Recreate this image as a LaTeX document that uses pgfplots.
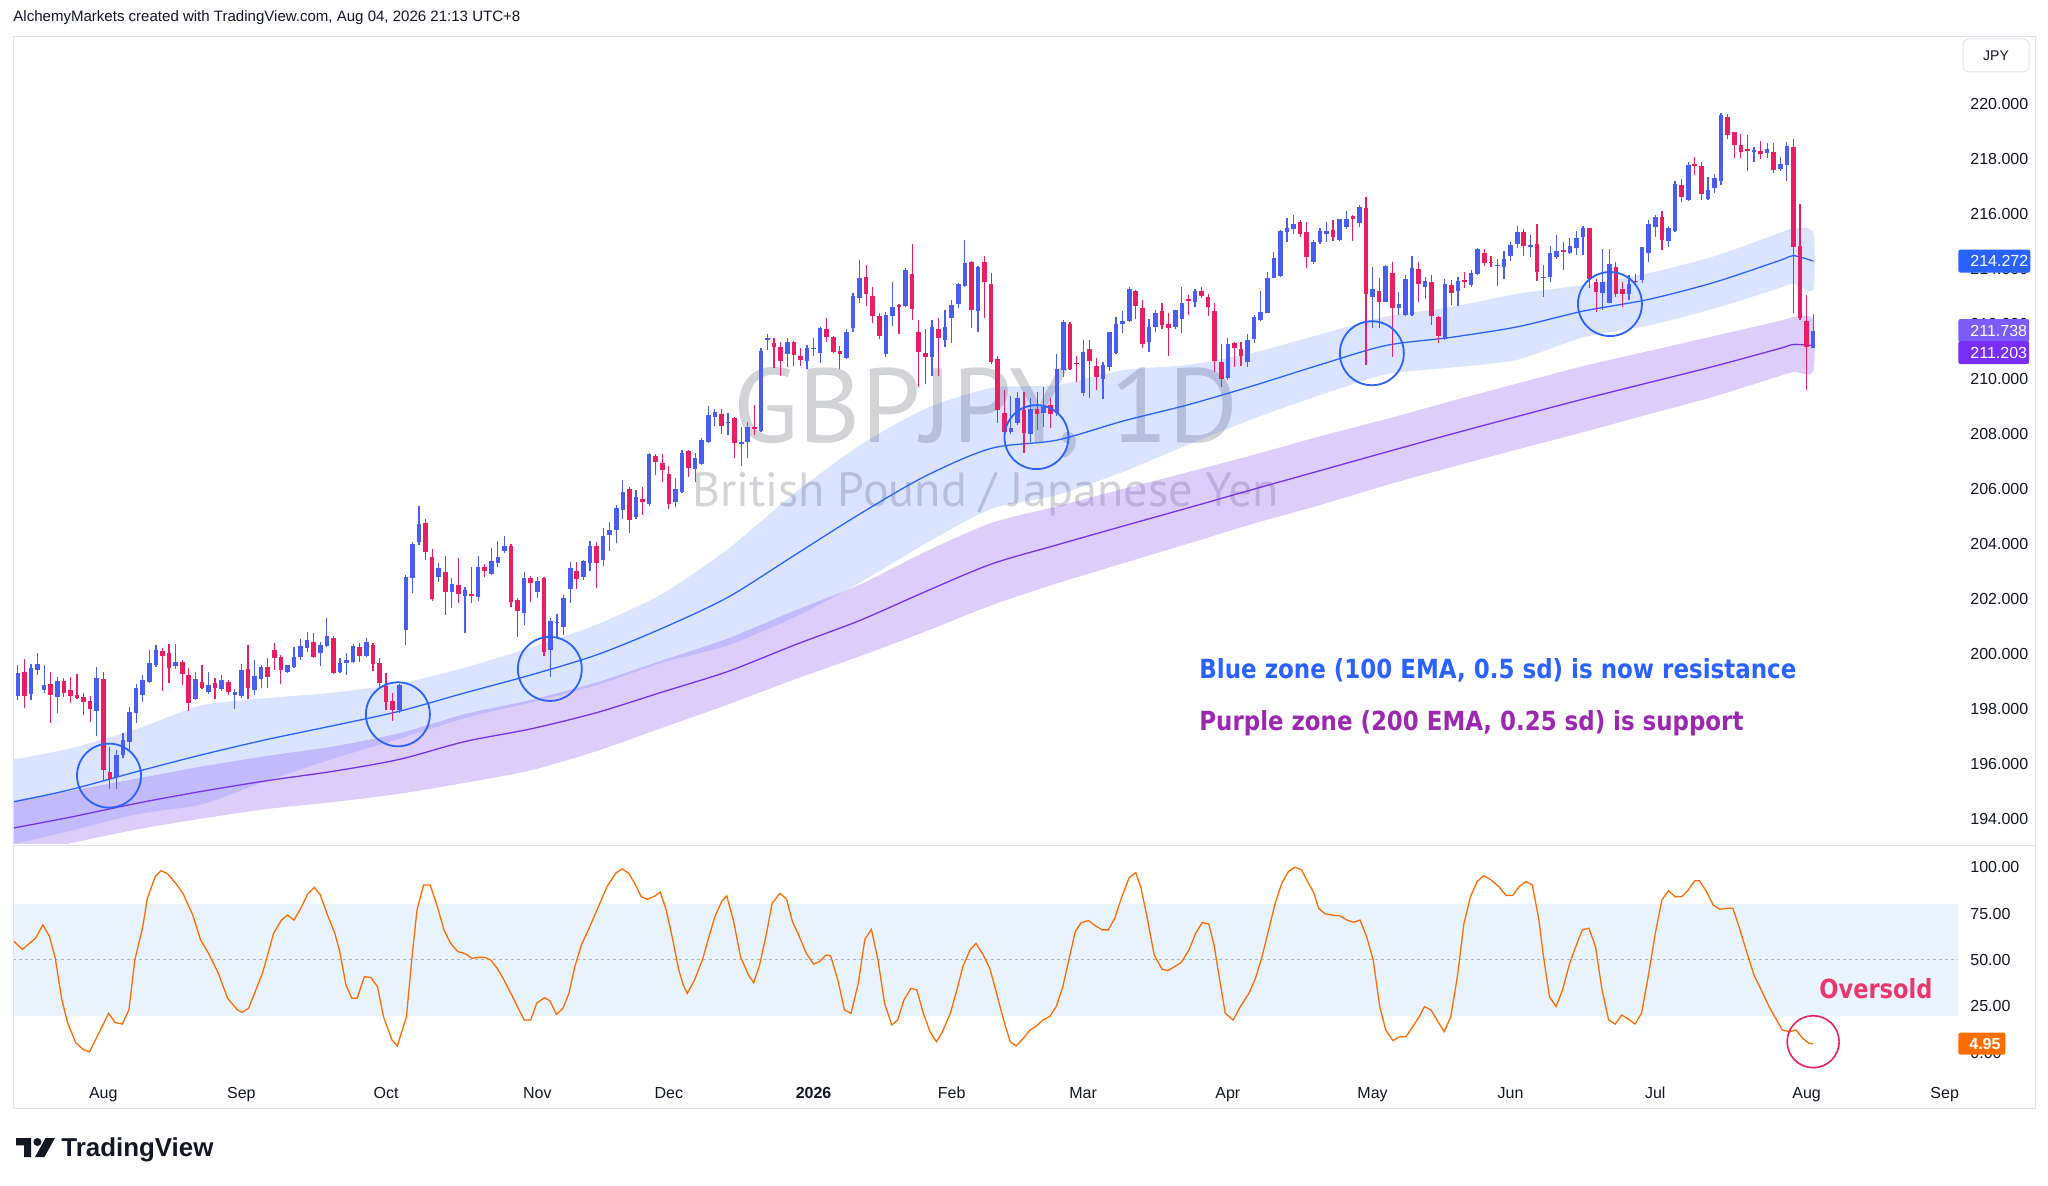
\documentclass[border=0pt]{standalone}
\usepackage{fontspec}
\setmainfont{Liberation Sans}
\newfontfamily\wmfont{PT Sans}
\newfontfamily\annfont{DejaVu Sans}
\usepackage{pgfplots}
\usepackage{pgfplotstable}
\pgfplotsset{compat=1.18}
\definecolor{upc}{RGB}{74,93,242}
\definecolor{dnc}{RGB}{233,30,99}
\definecolor{tvblue}{RGB}{41,98,255}
\definecolor{pline}{RGB}{118,50,235}
\definecolor{pband}{RGB}{140,90,240}
\definecolor{tvtext}{RGB}{19,23,34}
\definecolor{frame}{RGB}{224,227,235}
\definecolor{wm}{RGB}{210,211,215}
\definecolor{lblB}{RGB}{124,92,247}
\definecolor{lblC}{RGB}{122,46,250}
\definecolor{tvorange}{RGB}{255,109,0}
\definecolor{oscband}{RGB}{232,243,253}
\definecolor{annpurple}{RGB}{156,39,176}
\definecolor{ovs}{RGB}{232,56,109}
\definecolor{midgrey}{RGB}{178,181,190}

\pgfplotstableread[row sep=\\]{
x O H L C\\
-13 198.45 199.58 198.31 199.28\\ -11 198.53 199.61 198.31 199.46\\ -10 199.40 200.01 199.22 199.62\\ -9 198.67 199.58 198.55 198.85\\
-7 198.43 199.13 197.82 199.00\\ -1 197.91 199.52 197.00 199.12\\ 2 195.52 196.49 195.07 196.31\\ 3 196.31 197.12 196.19 196.85\\
4 196.79 198.04 196.49 197.88\\ 5 197.82 198.89 197.46 198.76\\ 6 198.49 199.22 198.25 199.04\\ 7 198.98 200.13 198.92 199.64\\
8 199.58 200.31 199.52 200.13\\ 11 199.56 200.33 199.44 199.68\\ 14 198.36 199.34 198.31 199.06\\ 16 198.61 199.34 198.53 198.85\\
18 198.71 199.22 198.65 199.04\\ 20 198.50 198.70 198.00 198.60\\ 21 198.45 199.62 198.37 199.40\\ 23 198.67 199.76 198.49 199.18\\
24 199.06 199.58 198.73 199.52\\ 28 199.32 199.58 199.28 199.58\\ 29 199.50 200.25 199.46 199.88\\ 30 199.86 200.52 199.76 200.27\\
31 200.19 200.77 200.07 200.49\\ 33 200.01 200.43 199.55 200.31\\ 34 200.27 201.28 200.25 200.64\\ 36 199.34 199.82 199.28 199.67\\
37 199.67 200.01 199.22 199.76\\ 38 199.70 200.33 199.67 200.29\\ 40 199.92 200.55 199.89 200.41\\ 45 197.95 198.91 197.82 198.85\\
46 200.85 202.85 200.31 202.79\\ 47 202.76 204.07 202.19 203.97\\ 48 204.07 205.36 203.95 204.70\\ 51 202.77 203.28 202.59 203.10\\
53 202.22 202.76 201.64 202.52\\ 55 202.10 202.41 200.73 202.31\\ 57 202.07 203.55 201.92 203.13\\ 59 202.89 203.82 202.85 203.38\\
60 203.30 204.09 203.16 203.52\\ 61 203.73 204.27 203.64 203.91\\ 64 201.46 202.95 201.04 202.73\\ 66 202.25 202.79 202.01 202.64\\
68 200.13 201.31 199.13 201.18\\ 69 201.10 201.42 200.61 201.16\\ 70 200.98 202.13 200.67 202.01\\ 71 202.35 203.32 201.82 203.10\\
73 202.79 203.40 202.67 203.36\\ 74 203.30 204.09 203.01 203.91\\ 76 203.40 204.55 203.18 204.27\\ 77 204.31 204.79 203.74 204.49\\
78 204.49 205.40 204.01 205.28\\ 79 205.22 206.31 204.91 205.88\\ 81 204.98 205.95 204.91 205.68\\ 83 205.44 207.28 205.36 207.24\\
87 205.50 206.37 205.34 205.97\\ 88 205.86 207.40 205.82 207.30\\ 90 206.70 207.28 206.25 207.10\\ 91 206.89 207.85 206.85 207.76\\
92 207.68 209.00 207.64 208.67\\ 93 208.59 208.91 208.27 208.79\\ 95 208.37 208.76 207.95 208.43\\ 97 207.61 208.25 206.83 207.68\\
98 207.68 208.41 207.10 208.25\\ 100 208.09 211.10 208.07 211.00\\ 101 211.40 211.61 211.04 211.47\\ 104 210.88 211.48 210.41 211.34\\
107 210.64 211.22 210.33 211.12\\ 108 211.06 211.46 210.82 211.12\\ 109 210.94 211.88 210.55 211.82\\ 113 210.76 211.79 210.71 211.70\\
114 211.85 213.10 211.70 213.00\\ 115 212.92 214.31 212.73 213.67\\ 119 210.89 212.43 210.77 212.31\\ 120 212.27 213.52 211.91 212.61\\
122 212.64 214.01 212.61 213.95\\ 126 210.79 212.13 210.10 211.86\\ 128 211.40 212.49 211.16 211.88\\ 129 212.19 212.85 211.28 212.67\\
130 212.71 213.46 212.55 213.42\\ 131 213.38 215.04 213.32 214.19\\ 133 212.45 214.09 211.68 214.07\\ 138 208.07 209.38 207.98 208.21\\
139 208.39 209.52 208.31 209.28\\ 141 207.98 209.28 207.70 208.91\\ 143 208.73 209.70 208.25 208.98\\ 145 208.73 210.88 208.64 210.33\\
146 210.31 212.13 210.07 212.04\\ 149 209.46 211.40 209.38 210.95\\ 152 209.98 210.61 209.25 210.49\\ 153 210.43 211.70 210.28 211.68\\
154 210.92 212.22 210.89 211.97\\ 155 211.97 212.45 211.64 212.10\\ 156 212.10 213.32 212.07 213.24\\ 159 211.34 212.15 210.98 211.86\\
160 211.88 212.49 211.70 212.39\\ 163 211.86 212.49 211.79 212.49\\ 164 212.15 213.32 211.64 212.76\\ 166 212.79 213.24 212.59 213.18\\
171 210.03 211.46 209.95 211.25\\ 174 210.61 211.61 210.43 211.40\\ 175 211.42 212.31 211.30 212.22\\ 176 212.13 213.18 212.10 212.43\\
177 212.39 213.88 212.37 213.67\\ 178 213.67 214.61 213.64 214.39\\ 179 213.74 215.40 213.70 215.36\\ 180 215.34 215.82 214.95 215.48\\
181 215.44 215.95 215.24 215.62\\ 184 214.22 215.04 214.16 214.95\\ 185 214.95 215.46 214.91 215.38\\ 186 215.25 215.70 214.95 215.38\\
188 215.04 215.79 215.01 215.79\\ 189 215.52 216.09 215.44 215.79\\ 191 215.67 216.31 215.52 216.25\\ 193 212.97 214.07 211.82 213.25\\
195 212.79 214.13 212.77 214.09\\ 197 212.58 213.13 212.31 212.70\\ 198 212.31 213.76 212.29 213.62\\ 199 212.31 214.45 212.29 214.01\\
201 213.34 213.70 212.91 213.55\\ 204 211.44 213.61 211.40 213.42\\ 206 213.18 213.70 212.65 213.55\\ 208 213.40 213.95 213.34 213.85\\
209 213.79 214.76 213.76 214.71\\ 212 214.08 214.35 213.38 214.12\\ 213 214.07 214.64 213.62 214.35\\ 214 214.47 214.98 214.29 214.85\\
215 214.88 215.56 214.73 215.34\\ 217 214.79 215.22 214.43 214.84\\ 219 213.66 214.13 212.97 213.70\\ 220 213.68 214.82 213.52 214.58\\
221 214.43 215.22 214.35 214.64\\ 223 214.58 215.10 214.53 214.82\\ 224 214.76 215.38 214.49 215.12\\ 225 215.13 215.55 214.49 215.48\\
228 213.10 214.71 212.49 213.52\\ 229 212.76 214.71 212.73 214.15\\ 232 213.06 213.76 212.85 213.44\\ 234 213.58 214.79 213.46 214.77\\
235 214.55 215.76 214.22 215.62\\ 236 215.52 215.95 215.16 215.88\\ 238 215.01 215.55 214.77 215.46\\ 239 215.38 217.19 215.34 217.06\\
241 216.49 217.88 216.47 217.76\\ 244 216.53 217.34 216.49 216.86\\ 245 216.92 217.44 216.73 217.30\\ 246 217.18 219.64 217.04 219.58\\
251 218.25 218.43 217.86 218.30\\ 253 218.19 218.55 218.01 218.35\\ 255 217.62 218.04 217.56 217.79\\ 256 217.76 218.61 217.19 218.47\\
260 211.10 212.35 211.10 211.74\\
}\up

\pgfplotstableread[row sep=\\]{
x O H L C\\
-12 199.34 199.79 198.01 198.45\\ -8 198.88 199.34 197.48 198.49\\ -6 199.00 199.10 198.43 198.58\\ -5 198.67 199.13 198.19 198.45\\
-4 198.48 199.26 198.36 198.40\\ -3 198.42 198.55 197.76 198.25\\ -2 198.27 198.45 197.52 197.97\\ 0 199.07 199.34 195.40 195.76\\
1 195.69 196.61 195.07 195.42\\ 9 200.10 200.19 198.65 199.92\\ 10 200.03 200.33 198.94 199.46\\ 12 199.70 199.76 198.85 199.26\\
13 199.22 199.46 197.92 198.21\\ 15 198.98 199.58 198.70 198.76\\ 17 198.92 199.10 198.33 198.73\\ 19 198.96 199.04 198.49 198.59\\
22 199.44 200.31 198.36 198.73\\ 25 199.52 199.82 198.73 199.13\\ 26 200.13 200.37 199.40 199.85\\ 27 199.86 199.95 198.89 199.40\\
32 200.41 200.73 199.82 199.86\\ 35 200.58 200.64 199.25 199.30\\ 39 200.25 200.37 199.68 199.92\\ 41 200.31 200.37 199.38 199.61\\
42 199.64 199.82 198.73 198.94\\ 43 198.83 199.28 197.95 198.22\\ 44 198.27 198.55 197.56 197.95\\ 49 204.76 204.91 203.40 203.70\\
50 203.50 203.80 201.91 201.98\\ 52 202.98 203.56 201.40 202.22\\ 54 202.48 203.46 201.82 202.15\\ 56 202.15 203.13 201.85 202.10\\
58 203.13 203.24 202.79 203.00\\ 62 203.91 203.97 201.70 201.89\\ 63 201.95 202.01 200.61 201.56\\ 65 202.73 202.82 201.89 202.58\\
67 202.76 202.79 199.92 200.07\\ 72 203.01 203.34 202.35 202.71\\ 75 203.91 204.07 202.37 203.30\\ 80 205.97 206.07 204.37 204.85\\
82 205.62 206.04 205.04 205.50\\ 84 207.19 207.24 206.49 206.95\\ 85 206.94 207.24 206.22 206.67\\ 86 206.53 206.82 205.25 205.44\\
89 207.36 207.40 206.41 206.76\\ 94 208.71 208.89 207.98 208.27\\ 96 208.55 208.61 207.12 207.64\\ 99 208.25 209.04 207.95 208.18\\
102 211.30 211.46 210.37 211.16\\ 103 211.16 211.34 210.10 210.65\\ 105 211.34 211.36 210.45 210.85\\ 106 210.82 211.10 210.47 210.67\\
110 211.79 212.21 211.34 211.52\\ 111 211.52 211.55 210.94 210.95\\ 112 211.00 211.19 210.35 210.88\\ 116 213.68 214.13 212.64 213.07\\
117 213.00 213.32 212.03 212.27\\ 118 212.27 212.39 211.44 211.55\\ 121 212.67 212.70 211.62 212.61\\ 123 213.79 214.89 212.13 212.52\\
124 211.68 212.13 209.68 210.98\\ 125 210.92 211.80 209.80 210.79\\ 127 211.80 212.19 210.10 211.46\\ 132 214.25 214.27 211.85 212.49\\
134 214.22 214.47 212.19 213.52\\ 135 213.42 213.82 210.53 210.59\\ 136 210.71 210.83 208.37 208.85\\ 137 208.73 209.58 207.98 208.07\\
140 208.85 209.50 207.30 208.03\\ 142 208.88 209.52 208.13 208.70\\ 144 209.04 209.28 208.19 208.70\\ 147 211.97 212.07 210.31 210.33\\
148 210.57 210.83 209.86 210.52\\ 150 211.07 211.40 209.28 210.65\\ 151 210.45 210.73 209.58 210.04\\ 157 213.18 213.22 212.15 212.65\\
158 212.55 212.85 211.10 211.24\\ 161 212.45 212.73 211.79 211.95\\ 162 211.98 212.37 210.83 211.82\\ 165 212.88 213.04 212.31 212.83\\
167 213.18 213.32 212.92 213.00\\ 168 212.98 213.07 212.27 212.61\\ 169 212.45 212.73 210.25 210.64\\ 170 210.59 211.24 209.68 209.98\\
172 211.28 211.34 210.43 211.10\\ 173 211.06 211.34 210.45 210.82\\ 182 215.70 215.76 215.16 215.25\\ 183 215.34 215.70 214.03 214.41\\
187 215.40 215.76 215.01 215.13\\ 190 215.91 215.95 215.01 215.79\\ 192 216.19 216.61 210.49 213.06\\ 194 213.19 213.64 211.82 212.79\\
196 213.85 214.22 210.79 212.58\\ 200 213.97 214.25 212.79 213.44\\ 202 213.50 213.76 211.95 212.27\\ 203 212.25 212.27 211.31 211.56\\
205 213.40 213.58 212.67 213.10\\ 207 213.58 213.86 213.31 213.52\\ 210 214.58 214.71 214.10 214.21\\ 211 214.24 214.47 214.04 214.19\\
216 215.34 215.44 214.47 214.82\\ 218 214.91 215.62 213.56 213.86\\ 222 214.66 214.98 213.95 214.61\\ 226 215.48 215.48 213.28 213.61\\
227 213.52 213.61 212.43 213.16\\ 230 214.07 214.22 212.98 213.06\\ 231 213.24 213.52 212.59 213.07\\ 233 213.55 213.80 213.46 213.52\\
237 215.86 216.09 214.67 215.04\\ 240 217.04 217.26 216.43 216.59\\ 242 217.79 218.04 217.40 217.73\\ 243 217.73 217.86 216.49 216.71\\
247 219.52 219.61 218.70 218.85\\ 248 218.95 218.98 218.03 218.49\\ 249 218.49 218.88 218.01 218.22\\ 250 218.33 218.85 217.56 218.28\\
252 218.27 218.65 217.98 218.16\\ 254 218.22 218.55 217.48 217.58\\ 257 218.43 218.70 212.37 214.79\\ 258 214.83 216.35 212.13 212.19\\
259 212.10 213.04 209.58 211.16\\
}\down

\pgfplotstableread[row sep=\\]{
x bm pm\\
-14 194.59 193.64\\ -5 195.05 194.05\\ 5 195.70 194.55\\ 15 196.32 194.99\\ 25 196.88 195.38\\ 35 197.38 195.72\\
45 197.90 196.15\\ 55 198.57 196.80\\ 65 199.22 197.26\\ 75 199.95 197.85\\ 85 200.92 198.60\\ 95 202.05 199.35\\
105 203.56 200.30\\ 115 205.07 201.20\\ 125 206.45 202.25\\ 135 207.46 203.25\\ 145 207.76 203.95\\ 155 208.45 204.63\\
165 209.05 205.30\\ 175 209.75 205.98\\ 185 210.50 206.65\\ 195 211.20 207.32\\ 205 211.50 207.98\\ 215 211.88 208.62\\
225 212.45 209.25\\ 235 212.88 209.85\\ 245 213.50 210.45\\ 255 214.30 211.10\\ 257 214.47 211.24\\ 260 214.27 211.20\\
}\lines

\pgfplotstableread[row sep=\\]{
x y\\
-14 196.13\\ -5 196.55\\ 5 197.25\\ 15 198.12\\ 25 198.38\\ 35 198.58\\ 45 198.90\\ 55 199.49\\ 65 200.22\\ 75 201.05\\
85 202.17\\ 95 203.80\\ 105 205.81\\ 115 207.57\\ 125 208.90\\ 135 209.66\\ 145 209.76\\ 155 210.30\\ 165 210.50\\ 175 210.95\\
185 211.60\\ 195 212.25\\ 205 212.60\\ 215 213.08\\ 225 213.40\\ 235 213.83\\ 245 214.45\\ 255 215.30\\ 257 215.48\\ 260 215.31\\
260 213.23\\ 257 213.46\\ 255 213.30\\ 245 212.55\\ 235 211.93\\ 225 211.50\\ 215 210.68\\ 205 210.40\\ 195 210.15\\ 185 209.40\\
175 208.55\\ 165 207.60\\ 155 206.60\\ 145 205.76\\ 135 205.26\\ 125 204.00\\ 115 202.57\\ 105 201.31\\ 95 200.30\\ 85 199.67\\
75 198.85\\ 65 198.22\\ 55 197.65\\ 45 196.90\\ 35 196.18\\ 25 195.38\\ 15 194.52\\ 5 194.15\\ -5 193.55\\ -14 193.05\\
}\bandB

\pgfplotstableread[row sep=\\]{
x y\\
-14 194.64\\ -5 195.00\\ 5 195.45\\ 15 195.89\\ 25 196.28\\ 35 196.62\\ 45 197.10\\ 55 197.80\\ 65 198.31\\ 75 198.95\\
85 199.75\\ 95 200.55\\ 105 201.55\\ 115 202.50\\ 125 203.70\\ 135 204.75\\ 145 205.35\\ 155 205.98\\ 165 206.60\\ 175 207.23\\
185 207.90\\ 195 208.52\\ 205 209.18\\ 215 209.82\\ 225 210.45\\ 235 211.00\\ 245 211.55\\ 255 212.10\\ 257 212.24\\ 260 212.15\\
260 210.25\\ 257 210.24\\ 255 210.10\\ 245 209.35\\ 235 208.70\\ 225 208.05\\ 215 207.42\\ 205 206.78\\ 195 206.12\\ 185 205.40\\
175 204.73\\ 165 204.00\\ 155 203.28\\ 145 202.55\\ 135 201.75\\ 125 200.80\\ 115 199.90\\ 105 199.05\\ 95 198.15\\ 85 197.30\\
75 196.45\\ 65 195.75\\ 55 195.30\\ 45 194.90\\ 35 194.60\\ 25 194.35\\ 15 194.00\\ 5 193.60\\ -5 193.10\\ -14 192.64\\
}\bandP

\pgfplotstableread[row sep=\\]{
x v\\
-13.7 60.4\\ -12.3 55.7\\ -10.3 61.7\\ -9.2 68.9\\ -8.2 62.9\\ -7.3 50.9\\ -6.3 28.5\\ -5.4 15.9\\ -4.2 5.5\\ -3.1 1.9\\
-2.1 0.5\\ -0.7 10.5\\ 0.8 21.3\\ 1.8 16.3\\ 2.9 15.5\\ 3.9 23.1\\ 4.8 50.0\\ 6.0 67.9\\ 6.7 83.2\\ 7.9 94.9\\
8.8 98.1\\ 9.8 96.3\\ 11.0 91.3\\ 12.1 85.9\\ 13.6 74.2\\ 14.8 60.8\\ 16.0 53.6\\ 17.5 42.8\\ 18.9 29.4\\ 20.4 23.1\\
21.1 21.8\\ 22.1 24.0\\ 23.2 33.9\\ 24.2 42.8\\ 25.2 55.4\\ 25.9 64.4\\ 27.1 71.5\\ 28.0 74.2\\ 29.0 71.5\\ 29.9 76.9\\
31.1 85.6\\ 32.1 89.1\\ 33.0 85.0\\ 34.0 75.1\\ 35.2 64.4\\ 35.9 55.4\\ 36.9 36.5\\ 37.8 29.4\\ 38.6 29.4\\ 39.7 41.0\\
40.7 40.5\\ 41.7 35.6\\ 42.6 19.5\\ 43.9 6.9\\ 44.7 3.7\\ 46.1 19.5\\ 46.9 50.0\\ 47.7 76.9\\ 48.7 90.4\\ 49.7 90.4\\
50.8 78.7\\ 51.8 66.2\\ 52.8 59.0\\ 53.9 54.5\\ 54.9 53.6\\ 56.1 50.9\\ 57.0 51.4\\ 58.0 51.4\\ 58.9 50.0\\ 59.9 45.5\\
60.8 40.1\\ 62.1 31.2\\ 63.1 24.0\\ 64.0 17.7\\ 65.0 17.7\\ 65.9 26.7\\ 67.1 29.7\\ 67.9 28.1\\ 68.9 20.7\\ 69.9 24.0\\
70.8 32.0\\ 71.7 46.4\\ 72.7 58.1\\ 74.1 68.9\\ 75.5 80.5\\ 76.6 89.5\\ 77.9 96.7\\ 78.9 99.0\\ 79.9 96.7\\ 80.8 91.3\\
81.8 84.1\\ 82.7 82.7\\ 83.7 84.1\\ 84.7 86.5\\ 85.6 76.9\\ 86.6 60.8\\ 87.5 44.6\\ 88.2 36.5\\ 88.8 32.0\\ 89.9 39.2\\
91.1 50.0\\ 92.1 62.6\\ 93.0 73.3\\ 94.1 82.0\\ 94.8 84.5\\ 95.8 71.5\\ 96.9 51.8\\ 98.1 41.9\\ 98.9 37.8\\ 99.8 47.3\\
100.8 63.5\\ 101.7 80.5\\ 102.9 85.9\\ 103.9 82.7\\ 104.8 70.6\\ 105.8 62.9\\ 106.9 53.6\\ 108.0 47.8\\ 108.9 49.1\\ 109.9 52.7\\
110.6 52.2\\ 111.7 39.2\\ 112.7 23.1\\ 113.7 21.3\\ 114.8 37.4\\ 115.8 61.1\\ 116.8 66.5\\ 117.8 50.0\\ 118.8 26.7\\ 119.9 15.0\\
120.8 17.7\\ 121.7 28.1\\ 122.8 34.7\\ 123.7 33.9\\ 124.7 21.3\\ 125.7 11.4\\ 126.7 6.0\\ 127.6 11.4\\ 128.8 21.3\\ 129.8 33.9\\
130.7 46.4\\ 131.8 55.4\\ 132.7 59.0\\ 133.8 52.7\\ 134.8 45.5\\ 135.7 33.9\\ 136.3 25.5\\ 137.2 14.1\\ 137.9 6.0\\ 138.8 3.7\\
139.9 7.8\\ 140.9 12.3\\ 141.9 14.5\\ 142.9 17.7\\ 143.9 19.5\\ 144.9 24.9\\ 145.9 35.6\\ 146.7 48.2\\ 147.8 65.3\\ 148.7 70.1\\
149.8 71.2\\ 150.9 68.3\\ 151.9 66.2\\ 152.8 66.2\\ 153.8 72.4\\ 154.8 83.2\\ 156.0 94.4\\ 157.0 97.0\\ 157.8 88.6\\ 158.7 73.3\\
159.8 52.7\\ 161.0 45.0\\ 161.9 44.3\\ 162.9 46.4\\ 163.9 48.6\\ 165.1 55.4\\ 166.1 64.4\\ 167.1 70.1\\ 168.1 69.4\\ 168.9 58.1\\
169.6 42.8\\ 170.6 21.3\\ 171.8 17.7\\ 172.9 24.9\\ 174.2 32.0\\ 175.2 40.1\\ 176.2 51.8\\ 177.2 66.2\\ 178.2 80.5\\ 179.2 91.3\\
180.2 97.6\\ 181.2 99.9\\ 182.2 98.5\\ 183.0 93.1\\ 184.1 85.9\\ 184.8 77.8\\ 185.8 74.8\\ 186.8 74.2\\ 188.1 73.7\\ 189.1 71.5\\
190.1 70.3\\ 191.1 71.5\\ 192.1 62.6\\ 193.1 50.0\\ 194.1 24.9\\ 195.0 12.3\\ 196.1 6.6\\ 197.1 8.7\\ 198.1 8.7\\ 199.1 14.1\\
200.1 19.5\\ 200.9 24.9\\ 201.9 23.1\\ 203.1 15.9\\ 203.9 11.4\\ 204.9 19.5\\ 205.9 41.0\\ 206.9 69.7\\ 207.9 84.1\\ 208.9 92.2\\
209.9 95.4\\ 210.9 93.4\\ 212.2 89.5\\ 213.3 84.7\\ 214.3 84.7\\ 215.3 89.5\\ 216.3 92.2\\ 217.3 90.4\\ 218.3 71.5\\ 219.0 51.8\\
219.9 30.3\\ 220.9 24.9\\ 221.9 33.9\\ 222.9 47.3\\ 223.9 57.2\\ 224.9 66.2\\ 225.9 67.1\\ 226.9 57.2\\ 227.9 33.9\\ 228.9 17.7\\
229.9 15.5\\ 230.9 20.4\\ 231.9 18.2\\ 232.9 15.5\\ 233.9 21.3\\ 235.0 42.8\\ 236.0 64.4\\ 237.0 82.3\\ 238.0 87.3\\ 239.0 84.1\\
240.0 84.1\\ 241.0 87.7\\ 242.0 92.7\\ 242.7 92.7\\ 243.8 86.8\\ 244.8 79.6\\ 245.8 77.3\\ 246.8 77.8\\ 247.8 77.8\\ 248.8 67.1\\
249.8 55.4\\ 251.0 41.9\\ 252.1 33.9\\ 253.3 24.9\\ 254.3 18.6\\ 255.3 12.3\\ 256.4 11.4\\ 257.4 12.3\\ 258.4 7.8\\ 259.4 5.1\\
260.0 4.95\\
}\osc

\begin{document}
\begin{tikzpicture}
\path[use as bounding box, fill=white] (0pt,0pt) rectangle (1024pt,592.5pt);
% watermark
\node[anchor=base west, inner sep=0pt, text=wm] at (366.5pt,371pt) {\resizebox{252.5pt}{37.5pt}{\wmfont GBPJPY, 1D}};
\node[anchor=base west, inner sep=0pt, text=wm] at (345.8pt,339pt) {\resizebox{293.5pt}{!}{\wmfont British Pound / Japanese Yen}};

\begin{axis}[at={(6.5pt,171pt)}, anchor=south west, scale only axis,
  width=972.5pt, height=403pt,
  xmin=-13.73, xmax=282.03, ymin=193.11, ymax=222.42,
  axis line style={draw=none}, major tick length=0pt,
  xtick=\empty,
  ytick={194,196,...,220},
  yticklabels={194.000,196.000,198.000,200.000,202.000,204.000,206.000,208.000,210.000,212.000,214.000,216.000,218.000,220.000},
  yticklabel pos=right,
  yticklabel style={anchor=west, inner sep=0pt, xshift=6pt, font=\fontsize{8}{9.6}\selectfont, text=tvtext}]
% bands
\addplot[fill=tvblue, fill opacity=0.17, draw=none, smooth, tension=0.4, forget plot] table[x=x,y=y]{\bandB};
\addplot[fill=pband, fill opacity=0.30, draw=none, smooth, tension=0.4, forget plot] table[x=x,y=y]{\bandP};
\addplot[tvblue, line width=0.65pt, smooth, forget plot] table[x=x,y=bm]{\lines};
\addplot[pline, line width=0.65pt, smooth, forget plot] table[x=x,y=pm]{\lines};
% wicks
\addplot[draw=upc, line width=0.6pt, forget plot, quiver={u=0, v={\thisrow{H}-\thisrow{L}}}] table[x=x, y=L]{\up};
\addplot[draw=dnc, line width=0.6pt, forget plot, quiver={u=0, v={\thisrow{H}-\thisrow{L}}}] table[x=x, y=L]{\down};
% bodies
\addplot[draw=upc, line width=2.3pt, forget plot, quiver={u=0, v={max(\thisrow{C}-\thisrow{O},0.04)}}] table[x=x, y=O]{\up};
\addplot[draw=dnc, line width=2.3pt, forget plot, quiver={u=0, v={max(\thisrow{O}-\thisrow{C},0.04)}}] table[x=x, y=C]{\down};
% circles
\addplot[only marks, mark=o, mark size=16pt, mark options={draw=tvblue, line width=0.9pt}, forget plot]
  coordinates {(0.87,195.56) (44.8,197.79) (67.9,199.44) (141.9,207.87) (192.9,210.92) (229.1,212.71)};
\coordinate (lA) at (axis cs:282.03,214.272);
\coordinate (lB) at (axis cs:282.03,211.745);
\coordinate (lC) at (axis cs:282.03,210.945);
\end{axis}
\node[fill=tvblue, text=white, anchor=west, inner sep=0pt, minimum height=11.5pt, minimum width=35pt, rounded corners=1pt, font=\fontsize{8}{9.6}\selectfont] at (lA) {\hspace*{6pt}214.272\hspace*{1pt}};
\node[fill=lblB, text=white, anchor=west, inner sep=0pt, minimum height=11.5pt, minimum width=35pt, rounded corners=1pt, font=\fontsize{8}{9.6}\selectfont] at (lB) {\hspace*{6pt}211.738\hspace*{1pt}};
\node[fill=lblC, text=white, anchor=west, inner sep=0pt, minimum height=11.5pt, minimum width=35pt, rounded corners=1pt, font=\fontsize{8}{9.6}\selectfont] at (lC) {\hspace*{6pt}211.203\hspace*{1pt}};

\begin{axis}[at={(6.5pt,56pt)}, anchor=south west, scale only axis,
  width=972.5pt, height=114pt,
  xmin=-13.73, xmax=282.03, ymin=-10.85, ymax=111.9,
  axis line style={draw=none}, major tick length=0pt,
  xtick={0,21,43,66,86,108,129,149,171,193,214,236,259,280},
  xticklabels={Aug,Sep,Oct,Nov,Dec,\textbf{2026},Feb,Mar,Apr,May,Jun,Jul,Aug,Sep},
  xticklabel style={anchor=base, inner sep=0pt, yshift=-12.5pt, font=\fontsize{8}{9.6}\selectfont, text=tvtext},
  ytick={0,25,50,75,100},
  yticklabels={0.00,25.00,50.00,75.00,100.00},
  yticklabel pos=right,
  yticklabel style={anchor=west, inner sep=0pt, xshift=6pt, font=\fontsize{8}{9.6}\selectfont, text=tvtext}]
\addplot[fill=oscband, draw=none, forget plot] coordinates {(-13.73,20) (282.03,20) (282.03,80) (-13.73,80)};
\addplot[midgrey, line width=0.5pt, dash pattern=on 1.5pt off 1.5pt, forget plot] coordinates {(-13.73,50) (282.03,50)};
\addplot[tvorange, line width=0.65pt, forget plot] table[x=x,y=v]{\osc};
\addplot[only marks, mark=o, mark size=13pt, mark options={draw=dnc, line width=0.8pt}, forget plot] coordinates {(260,6.0)};
\coordinate (lD) at (axis cs:282.03,4.95);
\end{axis}
\node[fill=tvorange, text=white, anchor=west, inner sep=0pt, minimum height=11pt, minimum width=23.5pt, rounded corners=1pt, font=\fontsize{8}{9.6}\selectfont\bfseries] at (lD) {\hspace*{4pt}4.95\hspace*{1pt}};

% frame
\draw[frame, line width=0.5pt] (6.5pt,38.5pt) rectangle (1017.5pt,574pt);
\draw[frame, line width=0.5pt] (6.5pt,170pt) -- (1017.5pt,170pt);
% JPY box
\draw[frame, rounded corners=3pt, line width=0.5pt] (981.5pt,556.5pt) rectangle (1014.5pt,573pt);
\node[font=\fontsize{7}{8}\selectfont, text=tvtext] at (998pt,564.75pt) {JPY};
% top text
\node[anchor=west, inner sep=0pt, text=tvtext] at (6.5pt,583.5pt) {\resizebox{253.5pt}{!}{AlchemyMarkets created with TradingView.com, Aug 04, 2026 21:13 UTC+8}};
% annotations
\node[anchor=base west, inner sep=0pt, text=tvblue] at (599.5pt,253.5pt) {\resizebox{298.5pt}{10pt}{\annfont\bfseries Blue zone (100 EMA, 0.5 sd) is now resistance}};
\node[anchor=base west, inner sep=0pt, text=annpurple] at (599.5pt,227.5pt) {\resizebox{272pt}{10pt}{\annfont\bfseries Purple zone (200 EMA, 0.25 sd) is support}};
\node[anchor=base west, inner sep=0pt, text=ovs] at (909.5pt,93.5pt) {\resizebox{56.5pt}{10pt}{\annfont\bfseries Oversold}};
% logo
\fill[tvtext] (8pt,23.5pt) -- (15.5pt,23.5pt) -- (15.5pt,14pt) -- (12pt,14pt) -- (12pt,19.8pt) -- (8pt,19.8pt) -- cycle;
\fill[tvtext] (18.7pt,21.5pt) circle (2pt);
\fill[tvtext] (17.5pt,14pt) -- (22.8pt,23.5pt) -- (27.5pt,23.5pt) -- (22.2pt,14pt) -- cycle;
\node[anchor=base west, inner sep=0pt, text=tvtext] at (30.5pt,14.5pt) {\resizebox{76pt}{!}{\bfseries TradingView}};
\end{tikzpicture}
\end{document}
